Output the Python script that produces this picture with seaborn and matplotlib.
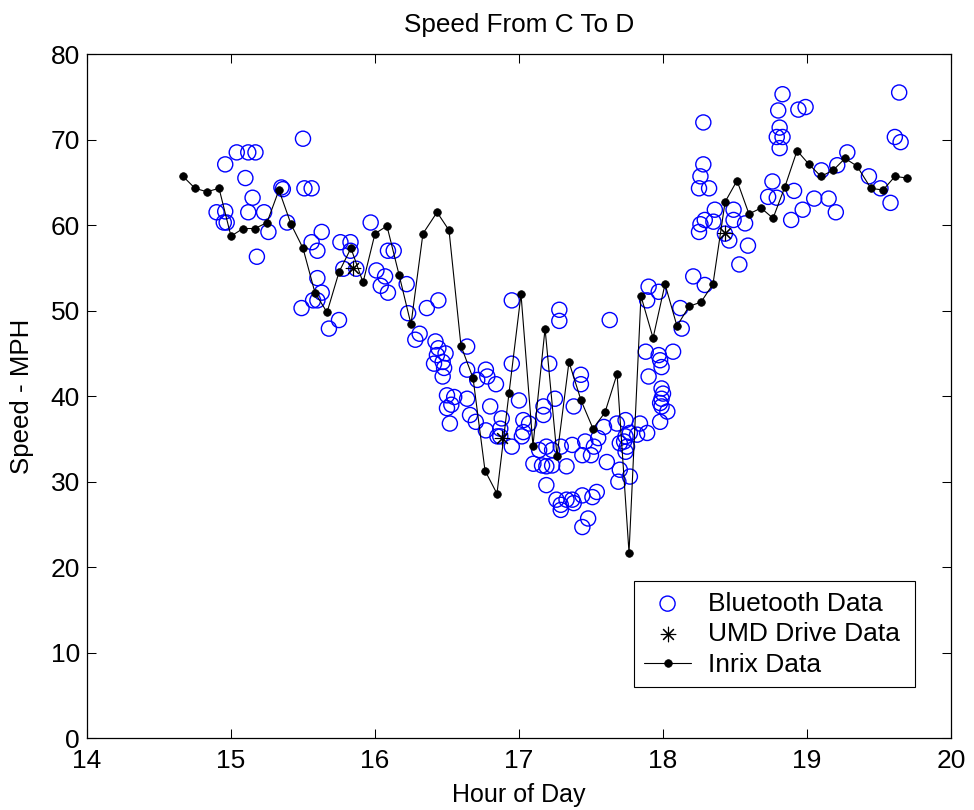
import matplotlib
matplotlib.use("Agg")
import matplotlib.pyplot as plt
import seaborn as sns
import pandas as pd

# ---------------- data ----------------
bt_hour = [15.50, 15.04, 15.12, 15.17, 14.96, 15.10, 15.35, 15.36, 15.51, 15.56,
           15.15, 14.90, 14.96, 15.12, 15.23, 14.95, 14.97, 15.39, 15.26, 15.63,
           15.56, 15.60, 15.76, 15.83, 15.83, 15.18, 15.78, 15.87, 15.60, 15.63,
           15.60, 15.57, 15.49, 15.75, 15.68, 15.97, 16.01, 16.09, 16.13, 16.07,
           16.04, 16.09, 16.22, 16.44, 16.23, 16.36, 17.28, 17.28, 16.95, 16.31,
           16.28, 16.42, 16.44, 16.49, 16.43, 16.41, 16.47, 16.48, 16.47, 16.64,
           16.64, 16.77, 16.78, 16.84, 16.71, 16.95, 17.21, 17.43, 17.43, 16.50,
           16.55, 16.64, 16.53, 16.50, 16.80, 17.00, 17.25, 17.38, 17.17, 17.17,
           16.66, 16.70, 16.52, 16.77, 16.88, 16.87, 16.87, 16.85, 16.95, 17.03,
           17.03, 17.02, 17.07, 17.14, 17.19, 17.23, 17.19, 17.29, 17.33, 17.37,
           17.23, 17.10, 17.16, 17.44, 17.46, 17.50, 17.52, 17.19, 17.26, 17.29,
           17.33, 17.37, 17.38, 17.29, 17.44, 17.51, 17.48, 17.44, 17.54, 17.63,
           17.68, 17.74, 17.70, 17.73, 17.74, 17.75, 17.74, 17.77, 17.82, 17.84,
           17.89, 17.61, 17.70, 17.69, 17.77, 17.88, 17.97, 18.07, 17.98, 17.99,
           17.90, 17.99, 18.00, 17.99, 17.98, 17.99, 18.03, 17.98, 17.90, 17.97,
           17.89, 18.12, 18.13, 18.21, 17.59, 17.55, 18.83, 18.80, 18.94, 18.99,
           18.81, 18.79, 18.83, 18.81, 18.28, 18.28, 18.26, 18.25, 18.32, 18.76,
           18.73, 18.79, 18.91, 19.05, 18.36, 18.29, 18.26, 18.25, 18.35, 18.49,
           18.49, 18.57, 18.46, 18.59, 18.53, 18.97, 18.89, 18.43, 18.29, 19.64,
           19.61, 19.65, 19.28, 19.21, 19.10, 19.43, 19.51, 19.58, 19.15, 19.20]

bt_mph = [70.1, 68.5, 68.5, 68.5, 67.1, 65.5, 64.4, 64.2, 64.3, 64.3,
          63.2, 61.5, 61.6, 61.5, 61.5, 60.3, 60.3, 60.3, 59.2, 59.2,
          58.0, 57.0, 58.0, 58.0, 57.0, 56.3, 54.9, 54.9, 53.8, 52.1,
          51.2, 51.2, 50.3, 48.9, 47.9, 60.3, 54.7, 57.0, 57.0, 54.0,
          52.9, 52.1, 53.1, 51.2, 49.7, 50.3, 50.1, 48.8, 51.2, 47.3,
          46.6, 46.4, 45.6, 45.0, 44.8, 43.8, 44.0, 43.3, 42.3, 45.8,
          43.1, 43.1, 42.3, 41.4, 41.9, 43.8, 43.8, 42.5, 41.4, 40.1,
          39.9, 39.7, 39.0, 38.6, 38.8, 39.5, 39.7, 38.8, 38.8, 37.8,
          37.8, 37.0, 36.8, 36.0, 37.4, 36.2, 35.3, 35.3, 34.1, 37.2,
          35.8, 35.3, 36.8, 33.7, 34.1, 33.7, 31.8, 34.1, 31.8, 34.3,
          31.9, 32.1, 31.9, 33.1, 34.7, 33.1, 34.1, 29.6, 27.9, 27.3,
          27.9, 27.9, 27.5, 26.7, 28.4, 28.2, 25.7, 24.7, 28.8, 48.9,
          36.8, 37.2, 34.5, 34.7, 35.3, 34.1, 33.5, 35.7, 35.5, 36.8,
          35.7, 32.3, 31.4, 30.0, 30.6, 45.2, 44.8, 45.2, 44.2, 43.4,
          42.3, 40.9, 40.3, 39.7, 39.2, 38.8, 38.2, 37.0, 52.8, 52.2,
          51.2, 50.3, 47.9, 54.0, 36.4, 35.1, 75.3, 73.4, 73.5, 73.8,
          71.4, 70.3, 70.3, 69.0, 72.0, 67.1, 65.7, 64.3, 64.3, 65.1,
          63.3, 63.2, 64.0, 63.1, 61.8, 60.6, 60.1, 59.2, 60.4, 61.8,
          60.6, 60.2, 58.2, 57.6, 55.4, 61.8, 60.6, 59.0, 53.0, 75.5,
          70.3, 69.7, 68.5, 67.0, 66.4, 65.7, 64.3, 62.6, 63.1, 61.5]

inrix_hour = [14.667, 14.750, 14.833, 14.917, 15.000, 15.083, 15.167, 15.250,
              15.333, 15.417, 15.500, 15.583, 15.667, 15.750, 15.833, 15.917,
              16.000, 16.083, 16.167, 16.250, 16.333, 16.431, 16.514, 16.597,
              16.681, 16.764, 16.847, 16.931, 17.014, 17.097, 17.181, 17.264,
              17.347, 17.431, 17.514, 17.597, 17.681, 17.764, 17.847, 17.931,
              18.014, 18.097, 18.181, 18.264, 18.347, 18.431, 18.514, 18.597,
              18.681, 18.764, 18.847, 18.931, 19.014, 19.097, 19.181, 19.264,
              19.347, 19.444, 19.528, 19.611, 19.694]

inrix_mph = [65.7, 64.3, 63.9, 64.3, 58.7, 59.6, 59.6, 60.3, 64.1, 60.1,
             57.3, 52.1, 49.8, 54.5, 57.3, 53.3, 59.0, 59.9, 54.2, 48.4,
             59.0, 61.5, 59.4, 45.9, 42.1, 31.3, 28.6, 40.4, 51.9, 34.2,
             47.9, 33.0, 44.0, 39.5, 36.2, 38.1, 42.6, 21.7, 51.7, 46.8,
             53.1, 48.2, 50.5, 51.0, 53.1, 62.7, 65.2, 61.3, 62.0, 60.8,
             64.5, 68.7, 67.1, 65.7, 66.4, 67.8, 66.9, 64.3, 64.1, 65.7,
             65.5]

umd_hour = [15.85, 16.88, 18.43]
umd_mph = [55.0, 35.1, 59.1]

x_ticks = [14, 15, 16, 17, 18, 19, 20]
y_ticks = [0, 10, 20, 30, 40, 50, 60, 70, 80]

title_text = "Speed From C To D"
x_label = "Hour of Day"
y_label = "Speed - MPH"
legend_labels = ["Bluetooth Data", "UMD Drive Data", "Inrix Data"]

# ---------------- style ----------------
sns.set_style("ticks")
plt.rcParams["font.family"] = ["Liberation Sans", "DejaVu Sans"]
plt.rcParams["text.color"] = "k"
plt.rcParams["axes.labelcolor"] = "k"
plt.rcParams["xtick.color"] = "k"
plt.rcParams["ytick.color"] = "k"
plt.rcParams["axes.edgecolor"] = "k"

bt = pd.DataFrame({"hour": bt_hour, "mph": bt_mph})
inrix = pd.DataFrame({"hour": inrix_hour, "mph": inrix_mph})
umd = pd.DataFrame({"hour": umd_hour, "mph": umd_mph})

fig = plt.figure(figsize=(9.74, 8.10), dpi=100)
ax = fig.add_axes([0.0893, 0.0885, 0.8871, 0.8448])

sns.scatterplot(data=bt, x="hour", y="mph", ax=ax, marker="o", s=118,
                facecolor="none", edgecolor="#0000ff", linewidth=1.0,
                label=legend_labels[0], zorder=2)
sns.scatterplot(data=umd, x="hour", y="mph", ax=ax, marker=(8, 2, 0), s=110,
                color="k", edgecolor="k", linewidth=0.8,
                label=legend_labels[1], zorder=4)
sns.lineplot(data=inrix, x="hour", y="mph", ax=ax, sort=False, estimator=None,
             color="k", linewidth=0.8, marker="o", markersize=5.5,
             markeredgecolor="k", markerfacecolor="k", markeredgewidth=0.5,
             label=legend_labels[2], zorder=3)

ax.set_xlim(14, 20)
ax.set_ylim(0, 80)
ax.set_xticks(x_ticks)
ax.set_yticks(y_ticks)
ax.set_xticklabels([str(t) for t in x_ticks])
ax.set_yticklabels([str(t) for t in y_ticks])
ax.tick_params(direction="in", length=6.5, width=0.75, top=True, right=True,
               labelsize=19, colors="k")
ax.tick_params(axis="x", pad=8)
ax.tick_params(axis="y", pad=5)
for sp in ax.spines.values():
    sp.set_visible(True)
    sp.set_linewidth(0.9)
    sp.set_color("k")

ax.set_title(title_text, fontsize=18.8, pad=16, color="k")
ax.set_xlabel(x_label, fontsize=18, labelpad=7, color="k")
ax.set_ylabel(y_label, fontsize=18.6, labelpad=12, color="k")

leg = ax.legend(loc="upper left", bbox_to_anchor=(0.633, 0.0, 0.3252, 0.2299),
                mode="expand", fontsize=19,
                frameon=True, fancybox=False, framealpha=1, edgecolor="k",
                borderpad=0.40, labelspacing=0.25, handlelength=1.75,
                handletextpad=0.64, borderaxespad=0, scatterpoints=1,
                numpoints=1)
leg.get_frame().set_linewidth(0.8)
for t in leg.get_texts():
    t.set_color("k")

fig.savefig("out.png", dpi=100, facecolor="white")
